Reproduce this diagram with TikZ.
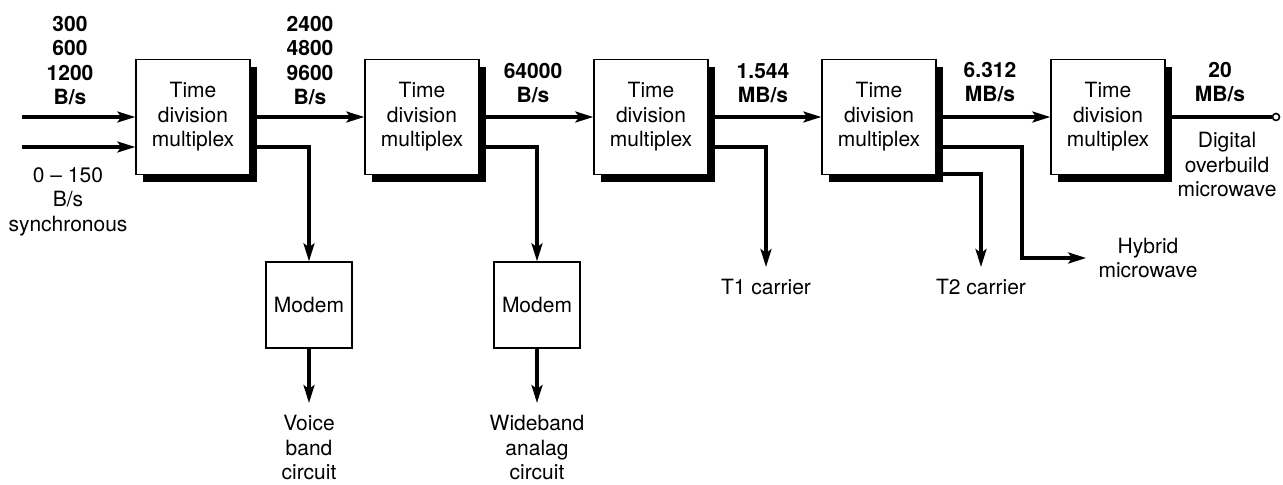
\documentclass[tikz,border=0pt]{standalone}
\usepackage{fontspec}
\setmainfont{TeX Gyre Heros}
\usetikzlibrary{positioning,arrows.meta,shadows}

\begin{document}
\begin{tikzpicture}[x=0.5pt, y=-0.5pt,
  every node/.style={font=\fontsize{10.5}{12.2}\selectfont, align=center},
  tdm/.style={draw, line width=0.7pt, fill=white, minimum width=57pt, minimum height=57.5pt, inner sep=0pt,
    drop shadow={shadow xshift=3.5pt, shadow yshift=-4pt, fill=black, opacity=1}},
  modem/.style={draw, line width=0.7pt, minimum size=43pt, inner sep=0pt},
  lbl/.style={inner sep=1pt, anchor=north},
  rate/.style={lbl, font=\fontsize{10.5}{12.2}\selectfont\bfseries},
  arr/.style={line width=1.6pt, -{Stealth[length=9pt,width=5.5pt,inset=2pt]}},
  tolbl/.style={arr, shorten >=5pt}]
\useasboundingbox (0,0) rectangle (1283,485);
\node (t1) [tdm] at (193,117) {Time\\division\\multiplex};
\node (t2) [tdm] at (422,117) {Time\\division\\multiplex};
\node (t3) [tdm] at (651,117) {Time\\division\\multiplex};
\node (t4) [tdm] at (879,117) {Time\\division\\multiplex};
\node (t5) [tdm] at (1108,117) {Time\\division\\multiplex};
\node (m1) [modem] at (309,305) {Modem};
\node (m2) [modem] at (537,305) {Modem};
\node (out) [circle, draw, line width=0.8pt, minimum size=3.5pt, inner sep=0pt] at (1276,117) {};

\node (r1) [rate] at (70,14) {300\\600\\1200\\B/s};
\node (r2) [rate] at (310,14) {2400\\4800\\9600\\B/s};
\node (r3) [rate] at (533,61) {64000\\B/s};
\node (r4) [rate] at (763,61) {1.544\\MB/s};
\node (r5) [rate] at (990,60) {6.312\\MB/s};
\node (r6) [rate] at (1220,60) {20\\MB/s};
\node (sy) [lbl] at (68,165) {0 -- 150\\B/s\\synchronous};
\node (dg) [lbl] at (1227,130) {Digital\\overbuild\\microwave};
\node (vb) [lbl] at (309,413) {Voice\\band\\circuit};
\node (wb) [lbl] at (537,413) {Wideband\\analag\\circuit};
\node (c1) [lbl] at (766,277) {T1 carrier};
\node (c2) [lbl] at (981,277) {T2 carrier};
\node (hy) [inner sep=1pt] at (1148,258) {Hybrid\\microwave};

\coordinate (i1) at (22,117);
\coordinate (i2) at (22,147);
\coordinate (hb) at (1022,258);
\draw[arr] (i1) -- (t1);
\draw[arr] (i2) -- (i2 -| t1.west);
\draw[arr] (t1) -- (t2);
\draw[arr] (t2) -- (t3);
\draw[arr] (t3) -- (t4);
\draw[arr] (t4) -- (t5);
\draw[line width=1.6pt] (t5) -- (out);
\draw[arr] ([yshift=-15pt]t1.east) -| (m1);
\draw[arr] ([yshift=-15pt]t2.east) -| (m2);
\draw[tolbl] (m1) -- (vb);
\draw[tolbl] (m2) -- (wb);
\draw[tolbl] ([yshift=-15pt]t3.east) -| (c1);
\draw[tolbl] ([yshift=-28.5pt]t4.east) -| (c2);
\draw[tolbl] ([yshift=-15pt]t4.east) -| (hb) -- (hy);
\end{tikzpicture}
\end{document}
